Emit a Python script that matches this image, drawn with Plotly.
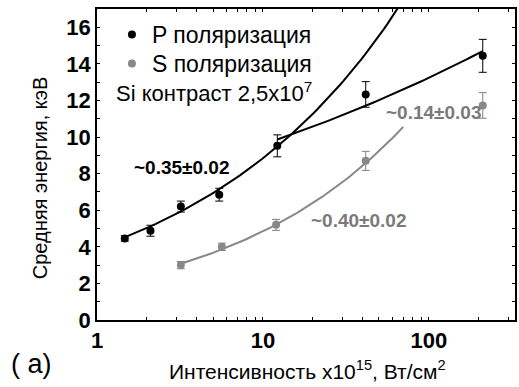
import numpy as np
import plotly.graph_objects as go

# Mean electron energy vs laser intensity, Si target, contrast 2.5e7
p_intensity = [1.47, 2.1, 3.2, 5.45, 12.2, 41.6, 211]
p_energy = [4.46, 4.88, 6.2, 6.85, 9.52, 12.33, 14.44]
p_err = [0.15, 0.3, 0.3, 0.35, 0.6, 0.7, 0.9]

s_intensity = [3.2, 5.65, 12.0, 41.6, 211]
s_energy = [3.0, 4.0, 5.2, 8.7, 11.73]
s_err = [0.2, 0.2, 0.3, 0.52, 0.7]

# Power-law fits E = A * I^k over the fitted intensity span
p_fit_low_k, p_fit_low_a, p_fit_low_span = 0.35, 3.95, (1.43, 80.0)
p_fit_high_k, p_fit_high_a, p_fit_high_span = 0.14, 6.95, (12.2, 211.0)
s_fit_k, s_fit_a, s_fit_span = 0.40, 1.93, (3.2, 70.0)

x_major = [1, 10, 100]
x_all = [m * d for d in (1, 10, 100) for m in range(1, 10) if m * d <= 330]
y_major = [0, 2, 4, 6, 8, 10, 12, 14, 16]
y_all = list(range(0, 18))

X_RANGE = [0, np.log10(330)]
Y_RANGE = [0, 17]

BLACK = "#000000"
GRAY = "#888888"
GRAY_BAR = "#808080"
GRAY_TEXT = "#7a7a7a"
SANS = "Liberation Sans, Arial, sans-serif"


def power_fit(a, k, span):
    xs = np.geomspace(span[0], span[1], 80)
    return xs, a * xs ** k


fig = go.Figure()

for a, k, span, color in [
    (p_fit_low_a, p_fit_low_k, p_fit_low_span, BLACK),
    (p_fit_high_a, p_fit_high_k, p_fit_high_span, BLACK),
    (s_fit_a, s_fit_k, s_fit_span, GRAY),
]:
    fx, fy = power_fit(a, k, span)
    fig.add_trace(go.Scatter(x=fx, y=fy, mode="lines", showlegend=False,
                             line=dict(color=color, width=2), hoverinfo="skip"))

fig.add_trace(go.Scatter(
    x=p_intensity, y=p_energy, mode="markers", name="P поляризация", legend="legend",
    marker=dict(color=BLACK, size=8),
    error_y=dict(type="data", array=p_err, color=BLACK, thickness=1, width=4),
))
fig.add_trace(go.Scatter(
    x=s_intensity, y=s_energy, mode="markers", name="S поляризация", legend="legend2",
    marker=dict(color=GRAY, size=8),
    error_y=dict(type="data", array=s_err, color=GRAY_BAR, thickness=1, width=4),
))

axis_common = dict(
    showline=True, linecolor=BLACK, linewidth=1.5, mirror="allticks",
    ticks="inside", tickcolor=BLACK, showgrid=False, zeroline=False,
    tickfont=dict(family=SANS, size=22, color=BLACK, weight="bold"),
)

# Main axes: every tick short, labels only on decades / even energies
fig.update_layout(
    xaxis=dict(type="log", range=X_RANGE, tickmode="array", tickvals=x_all,
               ticktext=[str(v) if v in x_major else "" for v in x_all],
               ticklen=3, **axis_common),
    yaxis=dict(range=Y_RANGE, tickmode="array", tickvals=y_all,
               ticktext=[str(v) if v in y_major else "" for v in y_all],
               ticklen=3, **axis_common),
    # Overlay axes carrying the longer major ticks
    xaxis2=dict(type="log", range=X_RANGE, overlaying="x", anchor="y", side="bottom",
                tickmode="array", tickvals=x_major, showticklabels=False,
                ticks="inside", ticklen=7, tickcolor=BLACK, mirror="allticks",
                showline=True, linecolor=BLACK, linewidth=1.5,
                showgrid=False, zeroline=False),
    yaxis2=dict(range=Y_RANGE, overlaying="y", anchor="x", side="left",
                tickmode="array", tickvals=y_major, showticklabels=False,
                ticks="inside", ticklen=7, tickcolor=BLACK, mirror="allticks",
                showline=True, linecolor=BLACK, linewidth=1.5,
                showgrid=False, zeroline=False),
)

annotations = [
    dict(text="~0.35±0.02", x=np.log10(3.23), y=8.36, xanchor="center",
         font=dict(family=SANS, size=19, color=BLACK, weight="bold")),
    dict(text="~0.14±0.03", x=np.log10(53.8), y=11.37, xanchor="left",
         font=dict(family=SANS, size=19, color=GRAY_TEXT, weight="bold")),
    dict(text="~0.40±0.02", x=np.log10(18.85), y=5.46, xanchor="left",
         font=dict(family=SANS, size=19, color=GRAY_TEXT, weight="bold")),
]
for ann in annotations:
    ann.update(xref="x", yref="y", yanchor="middle", showarrow=False)

annotations += [
    dict(text="Si контраст 2,5x10<sup>7</sup>", xref="paper", yref="paper",
         x=(114 - 97) / 420, y=(320 - 92) / 311, xanchor="left", yanchor="middle",
         showarrow=False, font=dict(family=SANS, size=22, color=BLACK)),
    dict(text="Интенсивность x10<sup>15</sup>, Вт/см<sup>2</sup>", xref="paper", yref="paper",
         x=(309 - 97) / 420, y=(320 - 370) / 311, xanchor="center", yanchor="middle",
         showarrow=False, font=dict(family=SANS, size=21, color=BLACK)),
    dict(text="Средняя энергия, кэВ", xref="paper", yref="paper", textangle=-90,
         x=(40 - 97) / 420, y=(320 - 178) / 311, xanchor="center", yanchor="middle",
         showarrow=False, font=dict(family=SANS, size=20, color=BLACK)),
    dict(text="( a)", xref="paper", yref="paper",
         x=(31 - 97) / 420, y=(320 - 364) / 311, xanchor="center", yanchor="middle",
         showarrow=False, font=dict(family=SANS, size=27, color=BLACK)),
]

legend_style = dict(xanchor="left", yanchor="top", bgcolor="rgba(0,0,0,0)", borderwidth=0,
                    font=dict(family=SANS, size=23, color=BLACK))

fig.update_layout(
    width=519, height=387,
    margin=dict(l=97, r=2, t=9, b=67),
    paper_bgcolor="white", plot_bgcolor="white",
    showlegend=True,
    legend=dict(x=(112 - 97) / 420, y=(320 - 13) / 311, **legend_style),
    legend2=dict(x=(112 - 97) / 420, y=(320 - 42) / 311, **legend_style),
    annotations=annotations,
)

fig.write_html("out.html")
